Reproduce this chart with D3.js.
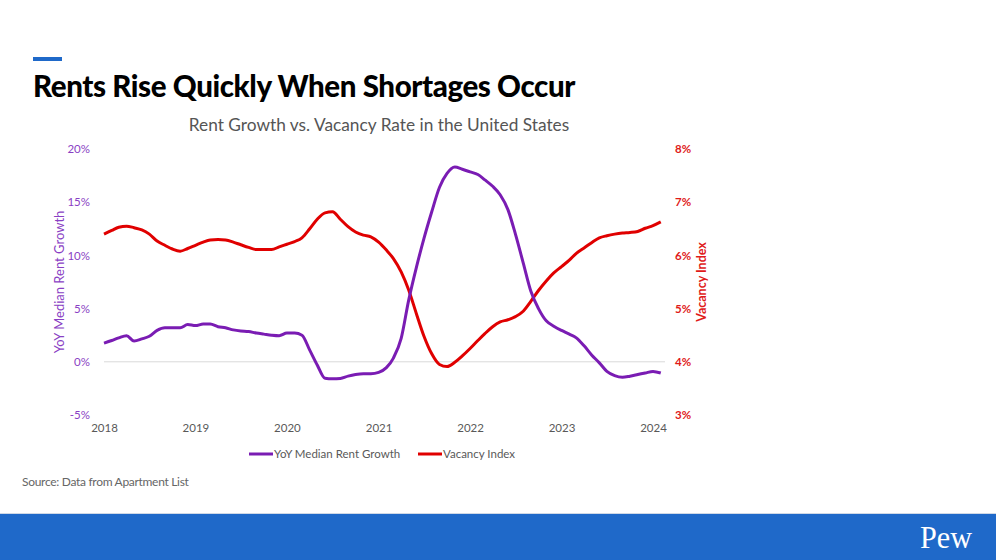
<!DOCTYPE html>
<html>
<head>
<meta charset="utf-8">
<script src="https://cdn.jsdelivr.net/npm/d3@7"></script>
<style>
  html, body { margin: 0; padding: 0; background: #fff; }
  svg { display: block; font-family: Lato, "Noto Sans", sans-serif; }
</style>
</head>
<body>
<svg id="chart" width="996" height="560"></svg>
<script>
// ---- data (monthly, Jan 2018 – Feb 2024) ----
const startMonth = new Date(2018, 0, 1);

const rentGrowth = [
  1.75, 2.0, 2.25, 2.45, 1.95, 2.15, 2.4, 2.95, 3.2, 3.2, 3.2, 3.5,
  3.4, 3.55, 3.55, 3.3, 3.2, 3.0, 2.9, 2.85, 2.7, 2.6, 2.5, 2.45,
  2.7, 2.7, 2.5, 1.1, -0.3, -1.55, -1.6, -1.57, -1.35, -1.2, -1.13, -1.13,
  -1.0, -0.55, 0.35, 2.2, 5.8, 8.9, 11.6, 14.1, 16.4, 17.7, 18.3, 18.1,
  17.85, 17.6, 17.1, 16.5, 15.7, 14.3, 12.0, 9.3, 6.6, 5.0, 3.85, 3.35,
  2.95, 2.6, 2.25, 1.5, 0.65, -0.1, -0.9, -1.3, -1.45, -1.35, -1.2, -1.05,
  -0.9, -1.05
];

const vacancyIndex = [
  6.40, 6.47, 6.53, 6.55, 6.52, 6.48, 6.40, 6.27, 6.19, 6.12, 6.08, 6.13,
  6.19, 6.25, 6.29, 6.30, 6.29, 6.25, 6.20, 6.15, 6.11, 6.11, 6.11, 6.16,
  6.21, 6.26, 6.33, 6.50, 6.68, 6.80, 6.82, 6.68, 6.54, 6.44, 6.38, 6.35,
  6.25, 6.10, 5.94, 5.69, 5.35, 4.90, 4.48, 4.15, 3.95, 3.91, 3.99, 4.11,
  4.25, 4.40, 4.53, 4.66, 4.75, 4.79, 4.85, 4.95, 5.14, 5.34, 5.52, 5.67,
  5.79, 5.91, 6.04, 6.14, 6.24, 6.33, 6.37, 6.40, 6.42, 6.43, 6.45, 6.51,
  6.56, 6.63
];

const xTickYears = [2018, 2019, 2020, 2021, 2022, 2023, 2024];
const leftTicks = [-5, 0, 5, 10, 15, 20];
const rightTicks = [3, 4, 5, 6, 7, 8];

const seriesNames = ["YoY Median Rent Growth", "Vacancy Index"];

// =========================
// SETUP
// =========================
const purple = "#7a1cb3";
const purpleText = "#8a3fc4";
const red = "#e00000";
const redText = "#e01a1a";
const grayText = "#595959";

const svg = d3.select("#chart");

const plot = { left: 104, right: 653, top: 149, bottom: 415 };

const months = rentGrowth.map((d, i) => d3.timeMonth.offset(startMonth, i));

const x = d3.scaleTime()
  .domain([new Date(2018, 0, 1), new Date(2024, 0, 1)])
  .range([plot.left, plot.right]);

const yLeft = d3.scaleLinear().domain([-5, 20]).range([plot.bottom, plot.top]);
const yRight = d3.scaleLinear().domain([3, 8]).range([plot.bottom, plot.top]);

// =========================
// HEADER
// =========================
svg.append("rect")
  .attr("x", 33).attr("y", 57)
  .attr("width", 29).attr("height", 4)
  .attr("fill", "#1f69c9");

svg.append("text")
  .attr("x", 33).attr("y", 97)
  .text("Rents Rise Quickly When Shortages Occur")
  .style("font-size", "29.5px")
  .style("font-weight", "900")
  .style("letter-spacing", "-0.4px")
  .style("fill", "#000");

svg.append("text")
  .attr("x", 379).attr("y", 131)
  .attr("text-anchor", "middle")
  .text("Rent Growth vs. Vacancy Rate in the United States")
  .style("font-size", "17.3px")
  .style("fill", "#555");

// =========================
// AXES
// =========================
// zero line
svg.append("line")
  .attr("x1", plot.left).attr("x2", 665)
  .attr("y1", yLeft(0)).attr("y2", yLeft(0))
  .attr("stroke", "#d9d9d9")
  .attr("stroke-width", 1);

const leftAxis = svg.append("g")
  .attr("transform", `translate(${plot.left - 14},0)`)
  .call(d3.axisLeft(yLeft).tickValues(leftTicks).tickFormat(d => d + "%").tickSize(0));
leftAxis.select(".domain").remove();
leftAxis.selectAll("text")
  .attr("x", 0)
  .style("font-family", "Lato, sans-serif")
  .style("font-size", "11.5px")
  .style("fill", purpleText);

const rightAxis = svg.append("g")
  .attr("transform", `translate(${plot.right + 22},0)`)
  .call(d3.axisRight(yRight).tickValues(rightTicks).tickFormat(d => d + "%").tickSize(0));
rightAxis.select(".domain").remove();
rightAxis.selectAll("text")
  .attr("x", 0)
  .style("font-family", "Lato, sans-serif")
  .style("font-size", "11.5px")
  .style("font-weight", "bold")
  .style("fill", redText);

const bottomAxis = svg.append("g")
  .attr("transform", `translate(0,${plot.bottom + 6})`)
  .call(d3.axisBottom(x)
    .tickValues(xTickYears.map(yr => new Date(yr, 0, 1)))
    .tickFormat(d3.timeFormat("%Y"))
    .tickSize(0));
bottomAxis.select(".domain").remove();
bottomAxis.selectAll("text")
  .style("font-family", "Lato, sans-serif")
  .style("font-size", "11.5px")
  .style("fill", grayText);

svg.append("text")
  .attr("transform", `translate(64,${(plot.top + plot.bottom) / 2}) rotate(-90)`)
  .attr("text-anchor", "middle")
  .text("YoY Median Rent Growth")
  .style("font-size", "13px")
  .style("fill", purpleText);

svg.append("text")
  .attr("transform", `translate(706,${(plot.top + plot.bottom) / 2}) rotate(-90)`)
  .attr("text-anchor", "middle")
  .text("Vacancy Index")
  .style("font-size", "12.5px")
  .style("font-weight", "bold")
  .style("fill", redText);

// =========================
// LINES
// =========================
const rentLine = d3.line()
  .x((d, i) => x(months[i]))
  .y(d => yLeft(d))
  .curve(d3.curveMonotoneX);

const vacLine = d3.line()
  .x((d, i) => x(months[i]))
  .y(d => yRight(d))
  .curve(d3.curveMonotoneX);

svg.append("path")
  .datum(vacancyIndex)
  .attr("d", vacLine)
  .attr("fill", "none")
  .attr("stroke", red)
  .attr("stroke-width", 3)
  .attr("stroke-linejoin", "round");

svg.append("path")
  .datum(rentGrowth)
  .attr("d", rentLine)
  .attr("fill", "none")
  .attr("stroke", purple)
  .attr("stroke-width", 3)
  .attr("stroke-linejoin", "round");

// =========================
// LEGEND
// =========================
const legendItems = [
  { name: seriesNames[0], color: purple, x: 249 },
  { name: seriesNames[1], color: red, x: 418 }
];

const legend = svg.append("g").attr("transform", "translate(0,454)");
legendItems.forEach(item => {
  legend.append("line")
    .attr("x1", item.x).attr("x2", item.x + 24)
    .attr("y1", 0).attr("y2", 0)
    .attr("stroke", item.color)
    .attr("stroke-width", 3);
  legend.append("text")
    .attr("x", item.x + 25)
    .attr("y", 4)
    .text(item.name)
    .style("font-size", "11.5px")
    .style("fill", grayText);
});

// =========================
// FOOTER
// =========================
svg.append("text")
  .attr("x", 22).attr("y", 486)
  .text("Source: Data from Apartment List")
  .style("font-size", "12px")
  .style("letter-spacing", "-0.3px")
  .style("fill", "#666");

svg.append("rect")
  .attr("x", 0).attr("y", 514)
  .attr("width", 996).attr("height", 46)
  .attr("fill", "#1f69c9");

svg.append("line")
  .attr("x1", 0).attr("x2", 996)
  .attr("y1", 513.5).attr("y2", 513.5)
  .attr("stroke", "#cfd8e6");

svg.append("text")
  .attr("x", 972).attr("y", 548)
  .attr("text-anchor", "end")
  .text("Pew")
  .style("font-family", "'Liberation Serif', 'DejaVu Serif', serif")
  .style("font-size", "31px")
  .style("fill", "#fff")
  .attr("textLength", 52)
  .attr("lengthAdjust", "spacingAndGlyphs");
</script>
</body>
</html>
